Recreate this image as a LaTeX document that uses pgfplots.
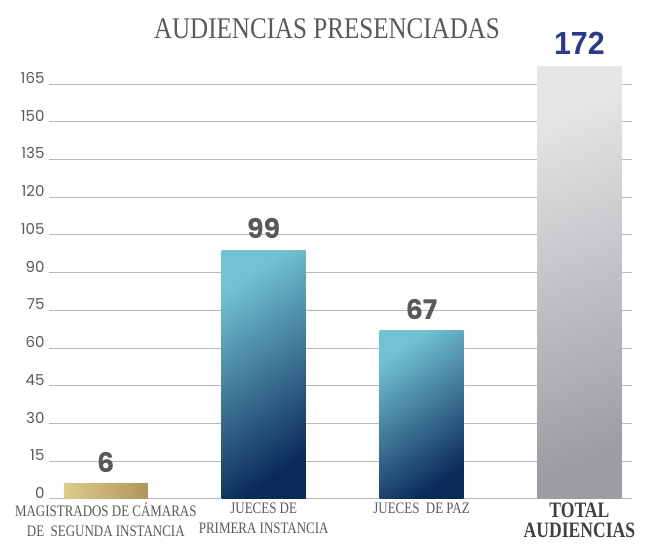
\documentclass[border=0pt]{standalone}
\usepackage{pgfplots}
\pgfplotsset{compat=1.18}
\usepackage{fontspec}
\usepackage{graphicx}
\setmainfont{Liberation Serif}
\newfontfamily\pop{Poppins}
\newfontfamily\arialf{Liberation Sans}
\definecolor{txt}{HTML}{58595B}
\definecolor{gridc}{HTML}{B8B8B8}
\definecolor{goldL}{HTML}{DDCB8C}
\definecolor{goldR}{HTML}{B09558}
\definecolor{blueTL}{HTML}{72C2D3}
\definecolor{blueM}{HTML}{2A6A96}
\definecolor{blueBR}{HTML}{0A2A5A}
\definecolor{grayT}{HTML}{E6E6E8}
\definecolor{grayB}{HTML}{9C9DA2}
\definecolor{totblue}{HTML}{29398F}
\definecolor{ttl}{HTML}{404040}
\newcommand\cl[1]{\scalebox{0.81}[1]{#1}}
\newcommand\tl[1]{\scalebox{0.8}[1]{\bfseries\fontsize{22}{22}\selectfont #1}}
\begin{document}
\begin{tikzpicture}
\path[use as bounding box] (0,0) rectangle (645pt,545pt);
\begin{axis}[
  at={(49pt,46pt)}, anchor=south west,
  scale only axis, width=583pt, height=452.7pt,
  xmin=-0.36, xmax=3.333, ymin=0, ymax=180,
  axis line style={draw=none},
  major tick length=0pt,
  ytick={0,15,...,165},
  ymajorgrids, grid style={gridc, line width=1pt},
  /pgf/number format/assume math mode=true,
  yticklabel style={font=\pop\fontsize{15}{15}\selectfont, text=txt, yshift=6pt, xshift=-1pt},
  xtick={0,1,2,3},
  xticklabels={
    {\cl{MAGISTRADOS DE CÁMARAS}\\\cl{DE\ \ SEGUNDA INSTANCIA}},
    {\cl{JUECES DE}\\\cl{PRIMERA INSTANCIA}},
    {\cl{JUECES\ \ DE PAZ}},
    {\textcolor{ttl}{\tl{TOTAL}}\\[0pt]\textcolor{ttl}{\tl{AUDIENCIAS}}}},
  xticklabel style={align=center, font=\fontsize{16}{20}\selectfont, text=txt, anchor=north, inner sep=0pt, yshift=-4pt},
  bar width=84pt,
  clip=false,
  every node near coord/.append style={anchor=south, inner sep=0pt, yshift=11pt},
]
\addplot[ybar, draw=none, left color=goldL, right color=goldR,
  nodes near coords, nodes near coords style={font=\pop\bfseries\fontsize{27}{27}\selectfont, text=txt}]
  coordinates {(0,6)};
\addplot[ybar, draw=none, top color=blueTL, middle color=blueM, bottom color=blueBR, shading angle=35,
  nodes near coords, nodes near coords style={font=\pop\bfseries\fontsize{27}{27}\selectfont, text=txt}]
  coordinates {(1,99)};
\addplot[ybar, draw=none, top color=blueTL, middle color=blueM, bottom color=blueBR, shading angle=35,
  nodes near coords, nodes near coords style={font=\pop\bfseries\fontsize{27}{27}\selectfont, text=txt}]
  coordinates {(2,67)};
\addplot[ybar, draw=none, top color=grayT, bottom color=grayB, shading angle=20,
  nodes near coords={\scalebox{0.95}[1]{\pgfmathprintnumber{\pgfplotspointmeta}}},
  nodes near coords style={font=\arialf\bfseries\fontsize{32}{32}\selectfont, text=totblue, yshift=1pt}]
  coordinates {(3,172)};
\end{axis}
\node[font=\fontsize{30}{30}\selectfont, text=txt, anchor=base] at (327pt,506pt) {\scalebox{0.835}[1]{AUDIENCIAS PRESENCIADAS}};
\end{tikzpicture}
\end{document}
